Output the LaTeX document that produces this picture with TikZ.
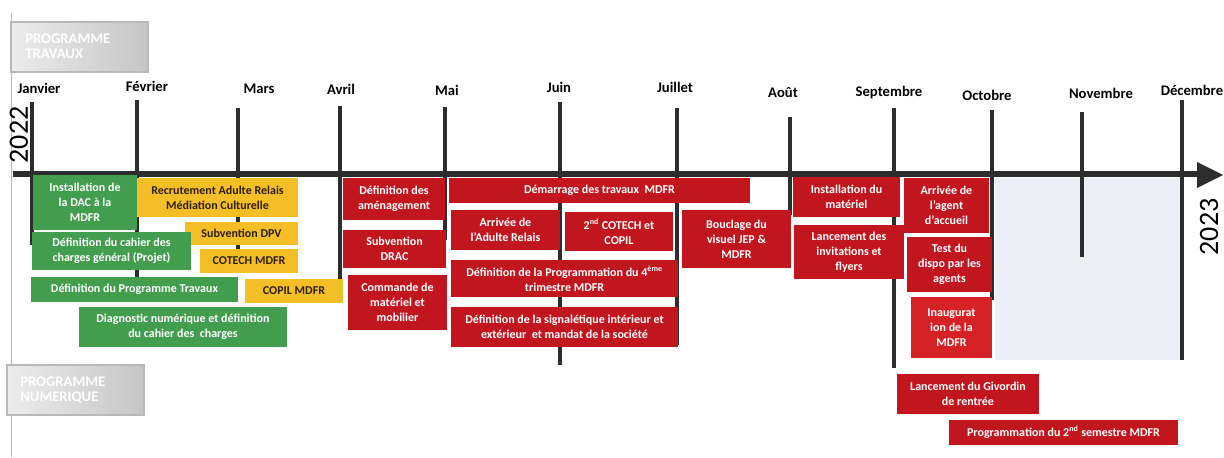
\documentclass[tikz,border=0pt]{standalone}
\usepackage{fontspec}
\setmainfont{Carlito}
\usepackage{tikz}

\definecolor{vert}{RGB}{66,158,78}
\definecolor{jaune}{RGB}{244,190,38}
\definecolor{rouge}{RGB}{194,22,30}
\definecolor{rougeclair}{RGB}{214,34,38}
\definecolor{brun}{RGB}{45,32,10}
\definecolor{axe}{RGB}{45,45,45}
\definecolor{fond}{RGB}{236,239,245}

\begin{document}
\begin{tikzpicture}[x=0.75pt,y=0.75pt,yscale=-1,xscale=1,
  vertbox/.style={fill=vert},
  jaunebox/.style={fill=jaune},
  rougebox/.style={fill=rouge},
  progbox/.style={left color=gray!15,right color=gray!45,draw=gray!55,line width=0.8pt},
  boxtxt/.style={inner sep=0.75pt,align=center,text=white,font=\bfseries\fontsize{9}{11.25}\selectfont},
  jaunetxt/.style={boxtxt,text=brun},
  progtxt/.style={inner sep=0.75pt,anchor=west,align=left,text=white,font=\bfseries\fontsize{11}{11.25}\selectfont},
  mois/.style={inner sep=0.75pt,font=\bfseries\fontsize{11}{13}\selectfont},
  annee/.style={inner sep=0pt,rotate=90,font=\fontsize{21}{23}\selectfont},
  tick/.style={line width=2.3pt,color=axe}
]
\useasboundingbox (0,0) rectangle (1224,457);

%Shape: Rectangle
\fill[fond] (995,178) rectangle (1180,360);
%Straight Lines
\draw[gray!55,line width=0.6pt] (11,13) -- (11,457);

%Shape: Rectangle
\shade[progbox] (11,22) rectangle (148,72);
% Text Node
\node[progtxt] (travaux) at (24,46) {PROGRAMME\\TRAVAUX};
%Shape: Rectangle
\shade[progbox] (7,365) rectangle (144,415);
% Text Node
\node[progtxt] (numerique) at (19,390) {PROGRAMME\\NUMERIQUE};

%Straight Lines
\draw[tick,line width=3pt] (32,102) -- (32,245);
\draw[tick] (137,100) -- (137,280);
\draw[tick] (238,108) -- (238,250);
\draw[tick] (340,106) -- (340,303);
\draw[tick] (445,107) -- (445,240);
\draw[tick] (560,102) -- (560,365);
\draw[tick] (677,108) -- (677,345);
\draw[tick] (790,117) -- (790,215);
\draw[tick] (894,108) -- (894,368);
\draw[tick] (992,110) -- (992,300);
\draw[tick] (1082,112) -- (1082,257);
\draw[tick] (1182,100) -- (1182,360);

%Straight Lines
\draw[axe,line width=5pt] (13,174) -- (1200,174);
%Shape: Triangle
\fill[axe] (1197,162) -- (1223,175) -- (1197,188) -- cycle;

% Text Node
\node[mois] (janvier) at (39,88) {Janvier};
\node[mois] (fevrier) at (147,86) {Février};
\node[mois] (mars) at (259,89) {Mars};
\node[mois] (avril) at (341,89) {Avril};
\node[mois] (mai) at (447,90) {Mai};
\node[mois] (juin) at (559,87) {Juin};
\node[mois] (juillet) at (675,87) {Juillet};
\node[mois] (aout) at (783,93) {Août};
\node[mois] (septembre) at (889,93) {Septembre};
\node[mois] (octobre) at (987,95) {Octobre};
\node[mois] (novembre) at (1101,93) {Novembre};
\node[mois] (decembre) at (1192,90) {Décembre};

% Text Node
\node[annee] (an2022) at (19,135) {2022};
\node[annee] (an2023) at (1209,227) {2023};

%Shape: Rectangle
\fill[vertbox] (33,175) rectangle (137,230);
\fill[jaunebox] (137,178) rectangle (298,217);
\fill[jaunebox] (185,222) rectangle (298,245);
\fill[vertbox] (32,232) rectangle (191,270);
\fill[jaunebox] (200,249) rectangle (298,273);
\fill[vertbox] (31,277) rectangle (238,302);
\fill[jaunebox] (245,279) rectangle (343,303);
\fill[vertbox] (79,307) rectangle (287,347);

% Text Node
\node[boxtxt] (installdac) at (85,202.5) {Installation de\\la DAC à la\\MDFR};
\node[jaunetxt] (recrutement) at (217.5,197.5) {Recrutement Adulte Relais\\Médiation Culturelle};
\node[jaunetxt] (subdpv) at (241.5,233.5) {Subvention DPV};
\node[boxtxt] (cahier) at (111.5,251) {Définition du cahier des\\charges général (Projet)};
\node[jaunetxt] (cotech) at (249,261) {COTECH MDFR};
\node[boxtxt] (progtravaux) at (134.5,289.5) {Définition du Programme Travaux};
\node[jaunetxt] (copil) at (294,291) {COPIL MDFR};
\node[boxtxt] (diagnostic) at (183,327) {Diagnostic numérique et définition\\du cahier des\ \ charges};

%Shape: Rectangle
\fill[rougebox] (343,178) rectangle (445,220);
\fill[rougebox] (343,230) rectangle (446,268);
\fill[rougebox] (348,275) rectangle (447,330);
\fill[rougebox] (449,178) rectangle (750,203);
\fill[rougebox] (451,210) rectangle (560,250);
\fill[rougebox] (565,212) rectangle (673,251);
\fill[rougebox] (682,210) rectangle (791,268);
\fill[rougebox] (451,260) rectangle (678,297);
\fill[rougebox] (451,307) rectangle (678,347);

% Text Node
\node[boxtxt] (amenagement) at (394,199) {Définition des\\aménagement};
\node[boxtxt] (subdrac) at (394.5,249) {Subvention\\DRAC};
\node[boxtxt] (commande) at (397.5,302.5) {Commande de\\matériel et\\mobilier};
\node[boxtxt] (demarrage) at (599.5,190.5) {Démarrage des travaux\ \ MDFR};
\node[boxtxt] (arriveeadulte) at (505.5,230) {Arrivée de\\l’Adulte Relais};
\node[boxtxt] (cotechdeux) at (619,231.5) {2\textsuperscript{nd} COTECH et\\COPIL};
\node[boxtxt] (bouclage) at (736.5,239) {Bouclage du\\visuel JEP \&\\MDFR};
\node[boxtxt] (progquatre) at (564.5,278.5) {Définition de la Programmation du 4\textsuperscript{ème}\\trimestre MDFR};
\node[boxtxt] (signaletique) at (564.5,327) {Définition de la signalétique intérieur et\\extérieur\ \ et mandat de la société};

%Shape: Rectangle
\fill[rougebox] (793,177) rectangle (900,217);
\fill[rougebox] (794,225) rectangle (904,279);
\fill[rougebox] (904,178) rectangle (989,233);
\fill[rougebox] (907,237) rectangle (992,292);
\fill[rougebox,fill=rougeclair] (911,297) rectangle (992,358);
\fill[rougebox] (897,374) rectangle (1039,414);
\fill[rougebox] (949,420) rectangle (1178,445);

% Text Node
\node[boxtxt] (materiel) at (846.5,197) {Installation du\\matériel};
\node[boxtxt] (invitations) at (849,252) {Lancement des\\invitations et\\flyers};
\node[boxtxt] (agent) at (946.5,205.5) {Arrivée de\\l’agent\\d’accueil};
\node[boxtxt] (test) at (949.5,264.5) {Test du\\dispo par les\\agents};
\node[boxtxt] (inauguration) at (951.5,327.5) {Inaugurat\\ion de la\\MDFR};
\node[boxtxt] (givordin) at (968,394) {Lancement du Givordin\\de rentrée};
\node[boxtxt] (semestre) at (1063.5,432.5) {Programmation du 2\textsuperscript{nd} semestre MDFR};

\end{tikzpicture}
\end{document}
